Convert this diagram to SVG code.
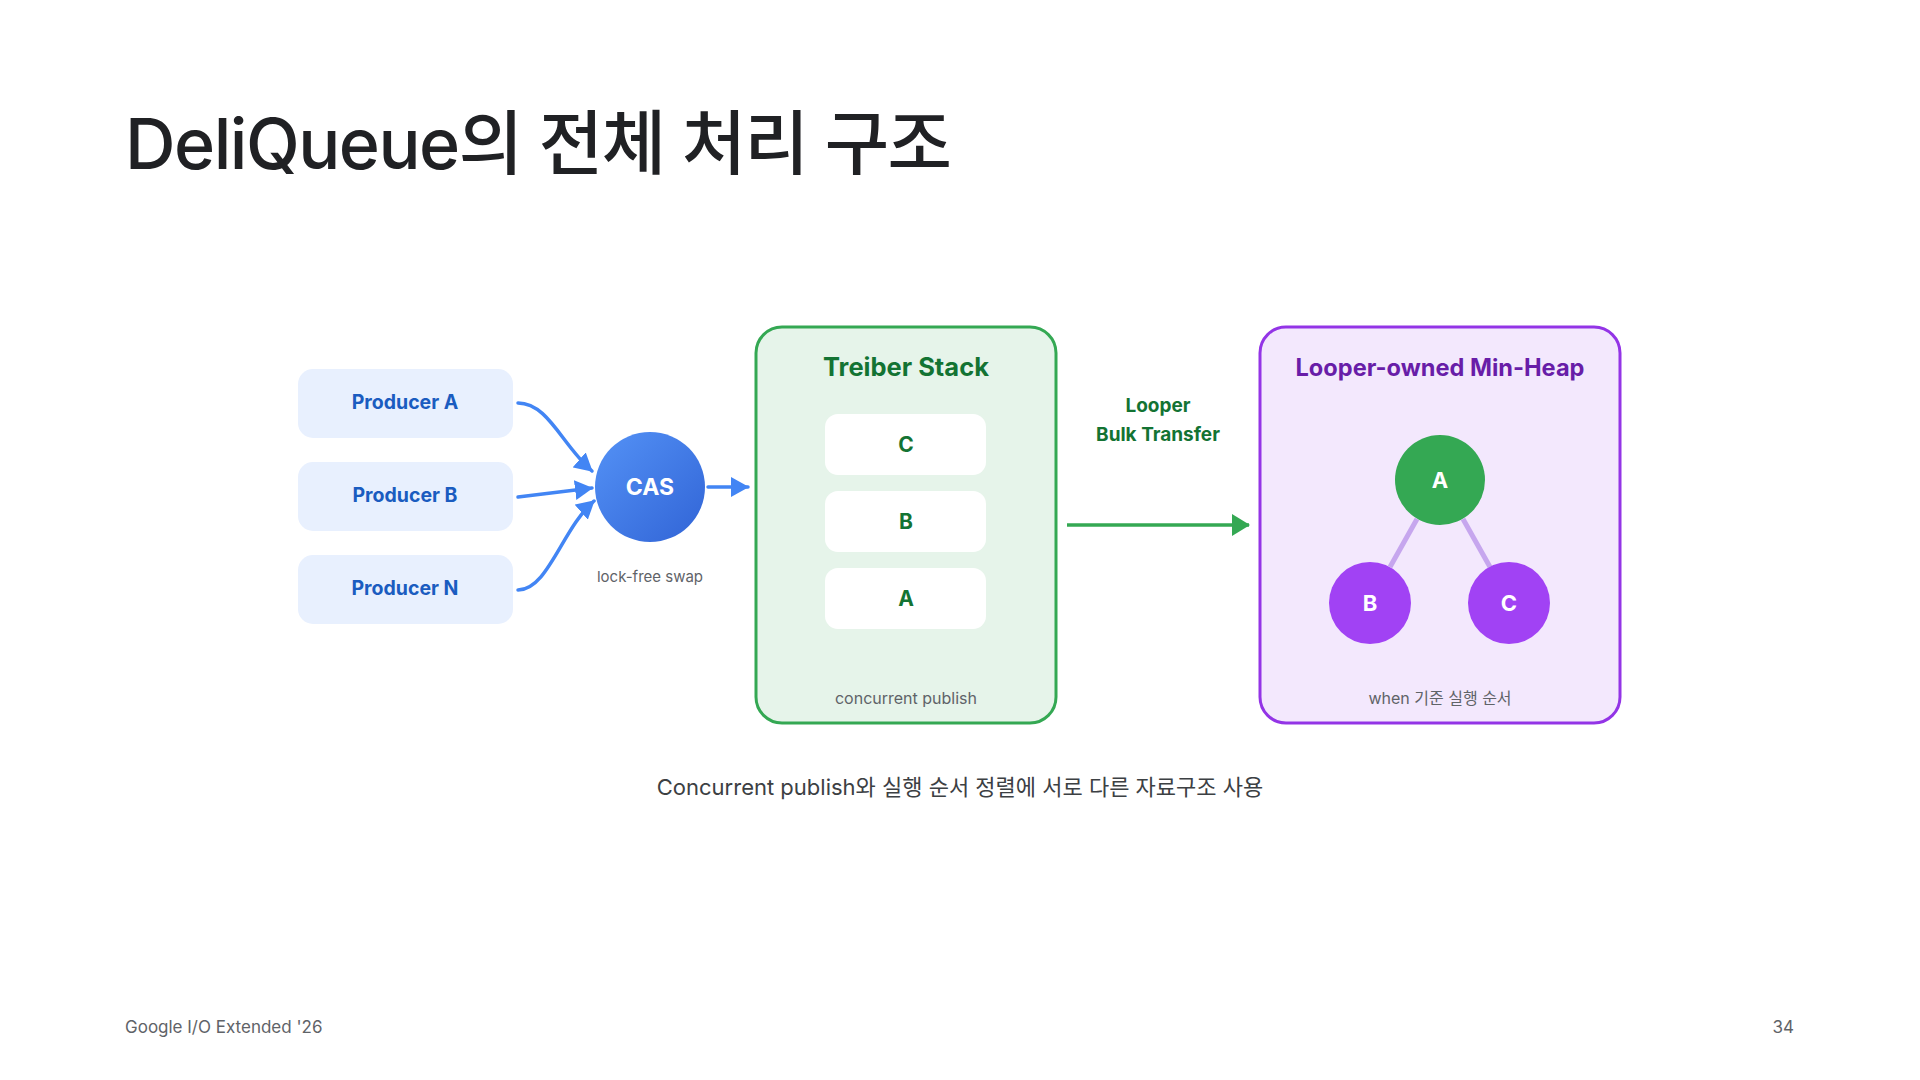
<svg xmlns="http://www.w3.org/2000/svg" width="1920" height="1080" viewBox="0 0 1920 1080">
  <defs>
    <linearGradient id="casGrad" x1="0" y1="0" x2="1" y2="1">
      <stop offset="0" stop-color="#5492f6"/>
      <stop offset="1" stop-color="#3164d6"/>
    </linearGradient>
    <marker id="arrBlue" viewBox="0 0 18 20" refX="17" refY="10" markerWidth="18" markerHeight="20" markerUnits="userSpaceOnUse" orient="auto">
      <path d="M0,0 L18,10 L0,20 Z" fill="#4285f4"/>
    </marker>
    <marker id="arrGreen" viewBox="0 0 18 22" refX="17" refY="11" markerWidth="18" markerHeight="22" markerUnits="userSpaceOnUse" orient="auto">
      <path d="M0,0 L18,11 L0,22 Z" fill="#34a853"/>
    </marker>
    <style>
      text { font-family: Inter, "Noto Sans", "Noto Sans CJK KR", sans-serif; }
      .title { font-size: 70px; font-weight: 500; fill: #202124; letter-spacing: -1.5px; }
      .prodBox { fill: #e8f0fe; }
      .prodTxt { font-size: 19.5px; font-weight: 700; fill: #1a5cc0; text-anchor: middle; }
      .note { font-size: 15px; fill: #5f6368; text-anchor: middle; }
      .note16 { font-size: 16px; fill: #5f6368; text-anchor: middle; }
      .stackBox { fill: #e6f4ea; stroke: #34a853; stroke-width: 3; }
      .heapBox { fill: #f3e8fd; stroke: #9334e6; stroke-width: 3; }
      .greenTitle { font-size: 25.5px; font-weight: 700; fill: #137333; text-anchor: middle; }
      .purpleTitle { font-size: 23.6px; font-weight: 700; fill: #681da8; text-anchor: middle; }
      .item { fill: #ffffff; }
      .itemTxt { font-size: 21px; font-weight: 700; fill: #137333; text-anchor: middle; }
      .greenLbl { font-size: 19px; font-weight: 700; fill: #137333; text-anchor: middle; }
      .nodeTxt { font-size: 22px; font-weight: 700; fill: #ffffff; text-anchor: middle; }
      .blueLine { fill: none; stroke: #4285f4; stroke-width: 3.5; stroke-linecap: round; }
      .greenLine { fill: none; stroke: #34a853; stroke-width: 3.5; }
      .heapEdge { stroke: #c6a6ee; stroke-width: 5; }
      .caption { font-size: 22px; fill: #3c4043; text-anchor: middle; }
      .footer { font-size: 17px; fill: #5f6368; }
    </style>
  </defs>

  <rect width="1920" height="1080" fill="#ffffff"/>

  <text class="title" x="125" y="169">DeliQueue의 전체 처리 구조</text>

  <g id="producer-a">
    <rect class="prodBox" x="298" y="369" width="215" height="69" rx="15"/>
    <text class="prodTxt" x="405" y="409">Producer A</text>
  </g>
  <g id="producer-b">
    <rect class="prodBox" x="298" y="462" width="215" height="69" rx="15"/>
    <text class="prodTxt" x="405" y="502">Producer B</text>
  </g>
  <g id="producer-n">
    <rect class="prodBox" x="298" y="555" width="215" height="69" rx="15"/>
    <text class="prodTxt" x="405" y="595">Producer N</text>
  </g>

  <g id="cas">
    <circle cx="650" cy="487" r="55" fill="url(#casGrad)"/>
    <text class="nodeTxt" x="650" y="495" style="font-size:23px">CAS</text>
    <text class="note" x="650" y="582">lock-free swap</text>
  </g>

  <g id="treiber-stack">
    <rect class="stackBox" x="756" y="327" width="300" height="396" rx="26"/>
    <text class="greenTitle" x="906" y="376">Treiber Stack</text>
    <rect class="item" x="825" y="414" width="161" height="61" rx="13"/>
    <text class="itemTxt" x="906" y="452">C</text>
    <rect class="item" x="825" y="491" width="161" height="61" rx="13"/>
    <text class="itemTxt" x="906" y="529">B</text>
    <rect class="item" x="825" y="568" width="161" height="61" rx="13"/>
    <text class="itemTxt" x="906" y="606">A</text>
    <text class="note16" x="906" y="704">concurrent publish</text>
  </g>

  <g id="bulk-transfer-label">
    <text class="greenLbl" x="1158" y="412">Looper</text>
    <text class="greenLbl" x="1158" y="441">Bulk Transfer</text>
  </g>

  <g id="min-heap">
    <rect class="heapBox" x="1260" y="327" width="360" height="396" rx="26"/>
    <text class="purpleTitle" x="1440" y="376">Looper-owned Min-Heap</text>
    <text class="note16" x="1440" y="704">when 기준 실행 순서</text>
  </g>

  <g id="connectors">
    <path class="blueLine" d="M518,403 C548,403 562,445 592,471" marker-end="url(#arrBlue)"/>
    <path class="blueLine" d="M518,497 L592,488" marker-end="url(#arrBlue)"/>
    <path class="blueLine" d="M518,590 C548,590 562,529 594,501" marker-end="url(#arrBlue)"/>
    <path class="blueLine" d="M708,487 L748,487" marker-end="url(#arrBlue)"/>
    <path class="greenLine" d="M1067,525 L1249,525" marker-end="url(#arrGreen)"/>
    <line class="heapEdge" x1="1417" y1="519" x2="1390" y2="567"/>
    <line class="heapEdge" x1="1463" y1="519" x2="1490" y2="567"/>
  </g>

  <g id="heap-a">
    <circle cx="1440" cy="480" r="45" fill="#34a853"/>
    <text class="nodeTxt" x="1440" y="488">A</text>
  </g>
  <g id="heap-b">
    <circle cx="1370" cy="603" r="41" fill="#a142f4"/>
    <text class="nodeTxt" x="1370" y="611">B</text>
  </g>
  <g id="heap-c">
    <circle cx="1509" cy="603" r="41" fill="#a142f4"/>
    <text class="nodeTxt" x="1509" y="611">C</text>
  </g>

  <text class="caption" x="960" y="795">Concurrent publish와 실행 순서 정렬에 서로 다른 자료구조 사용</text>

  <text class="footer" x="125" y="1033">Google I/O Extended '26</text>
  <text class="footer" x="1794" y="1033" text-anchor="end">34</text>
</svg>
